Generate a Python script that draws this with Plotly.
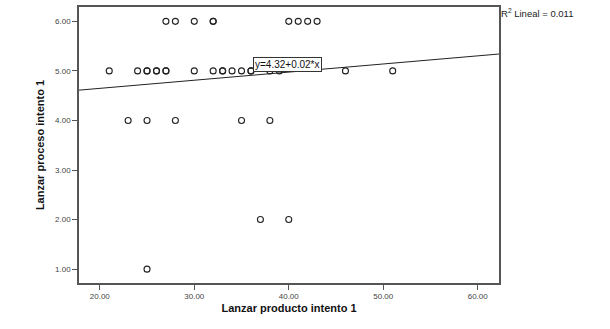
import plotly.graph_objects as go

# Data (Lanzar producto intento 1 vs Lanzar proceso intento 1)
x_producto = [27, 28, 30, 32, 32, 40, 41, 42, 43,
              21, 24, 25, 25, 26, 26, 27, 27, 30, 32, 33, 33, 34, 35, 36, 36, 38, 39, 46, 51,
              23, 25, 28, 35, 38,
              37, 40,
              25]
y_proceso = [6, 6, 6, 6, 6, 6, 6, 6, 6,
             5, 5, 5, 5, 5, 5, 5, 5, 5, 5, 5, 5, 5, 5, 5, 5, 5, 5, 5, 5,
             4, 4, 4, 4, 4,
             2, 2,
             1]

fit_intercept = 4.32
fit_slope = 0.0164
fit_label = "y=4.32+0.02*x"
r2_label = "R<sup>2</sup> Lineal = 0.011"

x_range = [17.8, 62.25]
y_range = [0.72, 6.29]
x_ticks = [20, 30, 40, 50, 60]
y_ticks = [1, 2, 3, 4, 5, 6]

fig = go.Figure()
fig.add_trace(go.Scatter(
    x=x_producto, y=y_proceso, mode="markers",
    marker=dict(symbol="circle-open", size=6, color="#222222", line=dict(width=1.1)),
    showlegend=False, hoverinfo="x+y"))

line_x = x_range
line_y = [fit_intercept + fit_slope * v for v in line_x]
fig.add_trace(go.Scatter(x=line_x, y=line_y, mode="lines",
                         line=dict(color="#222222", width=1), showlegend=False))

fig.add_annotation(x=36.2, y=5.12, xref="x", yref="y", text=fit_label,
                   showarrow=False, xanchor="left", yanchor="middle",
                   font=dict(family="Arial, Liberation Sans", size=10, color="#111111"),
                   bgcolor="white", bordercolor="#333333", borderwidth=1, borderpad=1)
fig.add_annotation(x=1.0, y=0.978, xref="paper", yref="paper", text=r2_label,
                   showarrow=False, xanchor="left", yanchor="middle",
                   font=dict(family="Arial, Liberation Sans", size=9.5, color="#222222"))

axis_common = dict(showgrid=False, zeroline=False, showline=True, linecolor="#555555",
                   linewidth=1.5, mirror=True, ticks="outside", ticklen=5,
                   tickcolor="#555555", tickwidth=1, automargin=False,
                   tickfont=dict(family="Arial, Liberation Sans", size=8, color="#444444"))

fig.update_xaxes(range=x_range, tickvals=x_ticks, tickformat=".2f",
                 title=dict(text="<b>Lanzar producto intento 1</b>", standoff=4,
                            font=dict(family="Arial, Liberation Sans", size=11, color="#111111")),
                 **axis_common)
fig.update_yaxes(range=y_range, tickvals=y_ticks, tickformat=".2f",
                 title=dict(text="<b>Lanzar proceso intento 1</b>", standoff=8,
                            font=dict(family="Arial, Liberation Sans", size=11, color="#111111")),
                 **axis_common)

fig.update_layout(width=610, height=329, margin=dict(l=79, r=111, t=7, b=46),
                  plot_bgcolor="white", paper_bgcolor="white")

fig.write_html("out.html", config={"displayModeBar": False},
               post_script="document.body.style.margin='0';")
